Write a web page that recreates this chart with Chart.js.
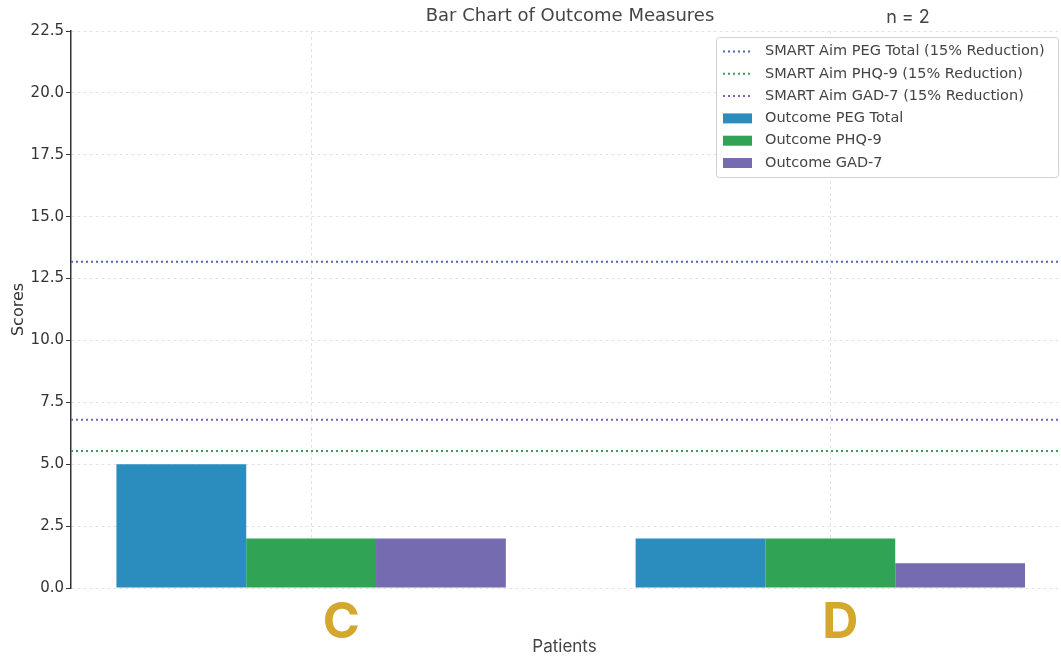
<!DOCTYPE html>
<html>
<head>
<meta charset="utf-8">
<title>Bar Chart of Outcome Measures</title>
<script src="https://cdn.jsdelivr.net/npm/chart.js@4"></script>
<style>
    body { margin: 0; background: #fff; }
    #wrap { width: 1061px; height: 660px; }
</style>
</head>
<body>
<div id="wrap"><canvas id="outcomeChart" width="1061" height="660"></canvas></div>
<script>
// patients on the x axis
const patients = ['C', 'D'];

// outcome scores per patient
const pegTotal = [5, 2];
const phq9 = [2, 2];
const gad7 = [2, 1];

// SMART aim targets (15% reduction)
const aimPegTotal = 13.18;
const aimPhq9 = 5.53;
const aimGad7 = 6.8;

// axis range (matplotlib-like margins around the bar groups)
const xMin = -0.4625;
const xMax = 1.4385;
const yMax = 22.5;
const yStep = 2.5;

const font = "'DejaVu Sans', sans-serif";

function barData(values) {
    return values.map((v, i) => ({ x: i, y: v }));
}

function aimLine(value) {
    return [{ x: xMin, y: value }, { x: xMax, y: value }];
}

const aimLineStyle = {
    type: 'line',
    borderWidth: 2,
    borderDash: [2, 3],
    pointRadius: 0,
    fill: false
};

// title, n label, patient letters and the boxed legend
const decorations = {
    id: 'decorations',
    afterDraw(chart) {
        const ctx = chart.ctx;
        const xs = chart.scales.x;
        ctx.save();

        ctx.fillStyle = '#444';
        ctx.textAlign = 'center';
        ctx.textBaseline = 'middle';
        ctx.font = '18px ' + font;
        ctx.fillText('Bar Chart of Outcome Measures', 570, 16);
        ctx.font = "18px 'Inter', sans-serif";
        ctx.fillText('n = 2', 908, 18);

        // big patient letters
        ctx.fillStyle = '#d4a82c';
        ctx.font = "bold 50px 'Inter', sans-serif";
        const shift = [30, 10];
        patients.forEach((p, i) => {
            ctx.fillText(p, xs.getPixelForValue(i) + shift[i], 623);
        });

        // legend box
        const bx = 716, by = 37, bw = 342, bh = 140;
        ctx.fillStyle = 'rgba(255,255,255,0.85)';
        ctx.strokeStyle = '#d0d0d0';
        ctx.lineWidth = 1;
        ctx.beginPath();
        ctx.roundRect(bx + 0.5, by + 0.5, bw, bh, 3);
        ctx.fill();
        ctx.stroke();

        ctx.font = '14.5px ' + font;
        ctx.textAlign = 'left';
        chart.data.datasets.forEach((ds, i) => {
            const y = 51.5 + i * 22.3;
            if (ds.type === 'line') {
                ctx.strokeStyle = ds.borderColor;
                ctx.lineWidth = 2;
                ctx.setLineDash([2, 3]);
                ctx.beginPath();
                ctx.moveTo(723, y);
                ctx.lineTo(751, y);
                ctx.stroke();
                ctx.setLineDash([]);
            } else {
                ctx.fillStyle = ds.backgroundColor;
                ctx.fillRect(723, y - 5, 29, 10);
            }
            ctx.fillStyle = '#444';
            ctx.fillText(ds.label, 765, y);
        });
        ctx.restore();
    }
};

new Chart(document.getElementById('outcomeChart'), {
    type: 'bar',
    data: {
        datasets: [
            { ...aimLineStyle, label: 'SMART Aim PEG Total (15% Reduction)', data: aimLine(aimPegTotal), borderColor: '#4e67b3' },
            { ...aimLineStyle, label: 'SMART Aim PHQ-9 (15% Reduction)', data: aimLine(aimPhq9), borderColor: '#3b9a5c' },
            { ...aimLineStyle, label: 'SMART Aim GAD-7 (15% Reduction)', data: aimLine(aimGad7), borderColor: '#8459bd' },
            { label: 'Outcome PEG Total', data: barData(pegTotal), backgroundColor: '#2b8cbe' },
            { label: 'Outcome PHQ-9', data: barData(phq9), backgroundColor: '#31a354' },
            { label: 'Outcome GAD-7', data: barData(gad7), backgroundColor: '#756bb1' }
        ]
    },
    options: {
        responsive: false,
        animation: false,
        devicePixelRatio: 1,
        categoryPercentage: 0.75,
        barPercentage: 1,
        layout: { padding: { top: 31, right: 3, left: 0, bottom: 0 } },
        plugins: {
            legend: { display: false },
            tooltip: { enabled: false }
        },
        scales: {
            x: {
                type: 'linear',
                min: xMin,
                max: xMax,
                offset: false,
                afterBuildTicks: scale => {
                    scale.ticks = patients.map((p, i) => ({ value: i }));
                },
                afterFit: scale => { scale.height = 72; },
                ticks: { display: false },
                border: { display: false, dash: [3, 3] },
                grid: {
                    offset: false,
                    color: '#e2e2e2',
                    drawTicks: false
                },
                title: {
                    display: true,
                    text: 'Patients',
                    color: '#444',
                    font: { family: "'Inter', sans-serif", size: 17 },
                    padding: { top: 0, bottom: 3 }
                }
            },
            y: {
                min: 0,
                max: yMax,
                afterFit: scale => { scale.width = 71; },
                ticks: {
                    stepSize: yStep,
                    color: '#333',
                    padding: 2,
                    font: { family: font, size: 15 },
                    callback: v => v.toFixed(1)
                },
                border: { display: true, color: '#333', width: 1.5, dash: [3, 3] },
                grid: {
                    color: '#e2e2e2',
                    tickColor: '#333',
                    tickLength: 5,
                    tickBorderDash: []
                },
                title: {
                    display: true,
                    text: 'Scores',
                    color: '#333',
                    font: { family: font, size: 16 },
                    padding: { top: 9, bottom: 0 }
                }
            }
        }
    },
    plugins: [decorations]
});
</script>
</body>
</html>
